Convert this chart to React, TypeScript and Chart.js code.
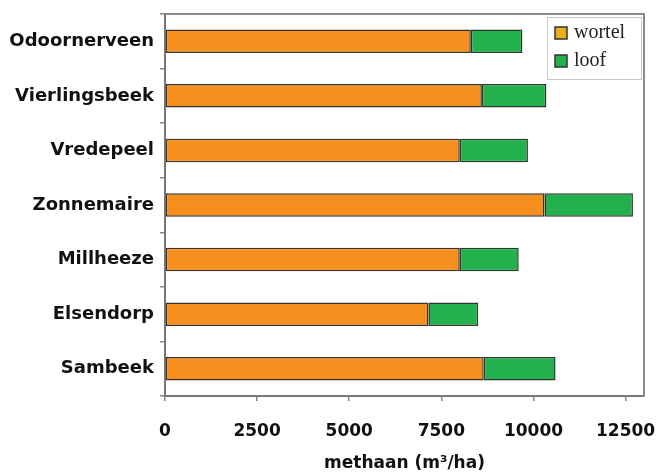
import React, { useEffect, useRef } from "react";
import { Chart, registerables } from "chart.js";

Chart.register(...registerables);

const categories = [
  "Odoornerveen",
  "Vierlingsbeek",
  "Vredepeel",
  "Zonnemaire",
  "Millheeze",
  "Elsendorp",
  "Sambeek",
];
const wortel = [8300, 8600, 8000, 10300, 8000, 7150, 8650];
const loof = [1400, 1750, 1850, 2400, 1600, 1350, 1950];
const xTicks = [0, 2500, 5000, 7500, 10000, 12500];
const seriesNames = ["wortel", "loof"];
const barColors = ["#F5901F", "#22B14C"];
const legendColors = ["#E8AE1C", "#22B14C"];

const framePlugin = {
  id: "frameAndLegend",
  afterDraw(chart: any) {
    const { ctx, chartArea } = chart;
    ctx.save();
    ctx.strokeStyle = "#8a8a8a";
    ctx.lineWidth = 2;
    ctx.beginPath();
    ctx.moveTo(chartArea.left, chartArea.top);
    ctx.lineTo(chartArea.right, chartArea.top);
    ctx.lineTo(chartArea.right, chartArea.bottom);
    ctx.stroke();

    // legend box inside plot, top-right
    const w = 94;
    const h = 62;
    const x = chartArea.right - 3 - w;
    const y = chartArea.top + 3;
    ctx.fillStyle = "#ffffff";
    ctx.fillRect(x, y, w, h);
    ctx.strokeStyle = "#c8c8c8";
    ctx.lineWidth = 1;
    ctx.strokeRect(x + 0.5, y + 0.5, w, h);
    seriesNames.forEach((name, i) => {
      const cy = y + 16 + i * 28;
      ctx.fillStyle = legendColors[i];
      ctx.fillRect(x + 8, cy - 6, 12, 12);
      ctx.strokeStyle = "#333";
      ctx.lineWidth = 1.5;
      ctx.strokeRect(x + 8, cy - 6, 12, 12);
      ctx.fillStyle = "#222";
      ctx.font = "20px 'Liberation Serif'";
      ctx.textBaseline = "middle";
      ctx.textAlign = "left";
      ctx.fillText(name, x + 27, cy);
    });
    ctx.restore();
  },
};

export default function App() {
  const ref = useRef<HTMLCanvasElement | null>(null);
  useEffect(() => {
    document.body.style.margin = "0";
    const canvas = ref.current;
    if (!canvas) return;
    const chart = new Chart(canvas, {
      type: "bar",
      data: {
        labels: categories,
        datasets: [
          {
            label: seriesNames[0],
            data: wortel,
            backgroundColor: barColors[0],
            borderColor: "#3a3028",
            borderWidth: 1.5,
            borderSkipped: false,
            barPercentage: 0.43,
            categoryPercentage: 1,
          },
          {
            label: seriesNames[1],
            data: loof,
            backgroundColor: barColors[1],
            borderColor: "#2a3a2a",
            borderWidth: 1.5,
            borderSkipped: false,
            barPercentage: 0.43,
            categoryPercentage: 1,
          },
        ],
      },
      options: {
        indexAxis: "y",
        animation: false,
        responsive: false,
        maintainAspectRatio: false,
        layout: { padding: { top: 14, right: 13, bottom: 0, left: 0 } },
        plugins: {
          legend: { display: false },
          tooltip: { enabled: false },
        },
        scales: {
          x: {
            stacked: true,
            min: 0,
            max: 13000,
            afterBuildTicks: (scale: any) => {
              scale.ticks = xTicks.map((v) => ({ value: v }));
            },
            afterFit: (scale: any) => {
              scale.height = 78;
              scale.paddingLeft = 0;
              scale.paddingRight = 0;
            },
            grid: {
              drawOnChartArea: false,
              drawTicks: true,
              tickLength: 5,
              color: "#888",
              lineWidth: 1.5,
            },
            border: { color: "#777", width: 2 },
            ticks: {
              color: "#111",
              padding: 20,
              maxRotation: 0,
              callback: (v: any) => String(v),
              font: { family: "'DejaVu Sans'", size: 17, weight: "bold" },
            },
            title: {
              display: true,
              text: "methaan (m³/ha)",
              color: "#111",
              padding: { top: 0, bottom: 0 },
              font: { family: "'DejaVu Sans'", size: 17, weight: "bold" },
            },
          },
          y: {
            stacked: true,
            afterFit: (scale: any) => {
              scale.width = 165;
              scale.paddingTop = 0;
              scale.paddingBottom = 0;
            },
            grid: {
              drawOnChartArea: false,
              drawTicks: true,
              tickLength: 5,
              color: "#888",
              lineWidth: 1.5,
              offset: true,
            },
            border: { color: "#777", width: 2 },
            ticks: {
              color: "#111",
              padding: 6,
              font: { family: "'DejaVu Sans'", size: 18, weight: "bold" },
            },
          },
        },
      },
      plugins: [framePlugin],
    } as any);
    return () => chart.destroy();
  }, []);
  return (
    <div style={{ width: 657, height: 474 }}>
      <canvas ref={ref} width={657} height={474} style={{ width: 657, height: 474 }} />
    </div>
  );
}
